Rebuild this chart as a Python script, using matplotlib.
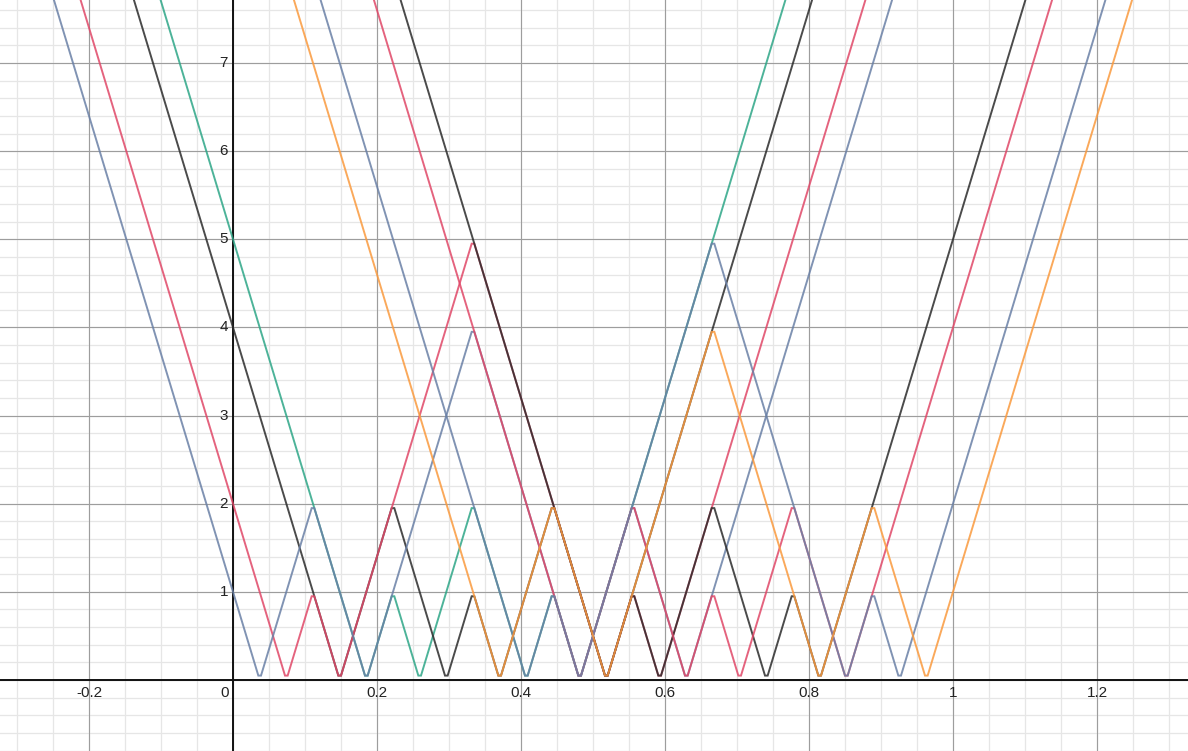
import numpy as np
import matplotlib
matplotlib.use("Agg")
import matplotlib.pyplot as plt

plt.rcParams["font.family"] = ["Liberation Sans", "DejaVu Sans"]

# y = |3|3|3x - p| - q| - r|  for p, q, r in {1, 2}
P_VALS = [1, 1, 1, 1, 2, 2, 2, 2]
Q_VALS = [1, 1, 2, 2, 1, 1, 2, 2]
R_VALS = [1, 2, 1, 2, 1, 2, 1, 2]
COLORS = ["#2ea687", "#2b2b2b", "#e04868", "#6a80a6",
          "#2b2b2b", "#e04868", "#6a80a6", "#fa9a3e"]

X_TICKS = [-0.2, 0, 0.2, 0.4, 0.6, 0.8, 1, 1.2]
X_TICK_LABELS = ["-0.2", "0", "0.2", "0.4", "0.6", "0.8", "1", "1.2"]
Y_TICKS = [1, 2, 3, 4, 5, 6, 7]

XMIN, XMAX = -233 / 720, (1188 - 233) / 720
PX_PER_Y = 617 / 7
YMIN, YMAX = -(751 - 680) / PX_PER_Y, 680 / PX_PER_Y


def f(x, p, q, r):
    return np.abs(3 * np.abs(3 * np.abs(3 * x - p) - q) - r)


fig = plt.figure(figsize=(11.88, 7.51), dpi=100)
ax = fig.add_axes([0, 0, 1, 1])
ax.set_xlim(XMIN, XMAX)
ax.set_ylim(YMIN, YMAX)
for s in ax.spines.values():
    s.set_visible(False)
ax.set_xticks([])
ax.set_yticks([])

# --- grid ---
for gx in np.arange(-0.35, 1.40, 0.05):
    ax.axvline(gx, color="#e6e6e6", lw=0.9, zorder=0)
for gy in np.arange(-0.8, 7.8, 0.2):
    ax.axhline(gy, color="#e6e6e6", lw=0.9, zorder=0)
for gx in np.arange(-0.2, 1.3, 0.2):
    ax.axvline(gx, color="#9d9d9d", lw=0.8, zorder=1)
for gy in range(-1, 8):
    ax.axhline(gy, color="#9d9d9d", lw=0.8, zorder=1)
ax.axhline(0, color="#111111", lw=1.4, zorder=2)
ax.axvline(0, color="#111111", lw=1.4, zorder=2)

# --- curves ---
x = np.arange(-0.35 * 270, 1.35 * 270 + 1) / 270.0
for p, q, r, c in zip(P_VALS, Q_VALS, R_VALS, COLORS):
    ax.plot(x, f(x, p, q, r), color=c, lw=1.4, alpha=0.85,
            solid_joinstyle="miter", zorder=3)

# --- tick labels ---
for t, lab in zip(X_TICKS, X_TICK_LABELS):
    if t == 0:
        ax.text(-0.006, -0.07, lab, ha="right", va="top", fontsize=11,
                color="#222222", zorder=5)
    else:
        ax.text(t, -0.07, lab, ha="center", va="top", fontsize=11,
                color="#222222", zorder=5)
for t in Y_TICKS:
    ax.text(-0.007, t, str(t), ha="right", va="center", fontsize=11,
            color="#222222", zorder=5)

fig.savefig("out.png", dpi=100)
